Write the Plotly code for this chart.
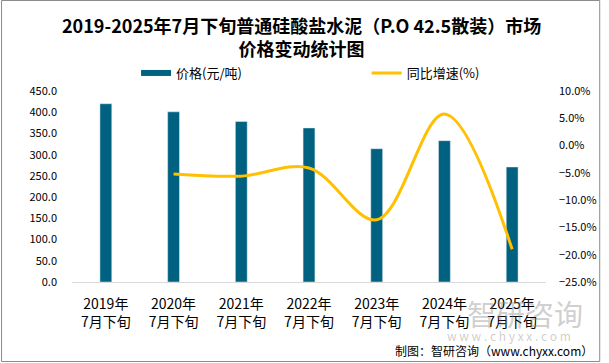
import plotly.graph_objects as go

categories = ["2019年<br>7月下旬", "2020年<br>7月下旬", "2021年<br>7月下旬", "2022年<br>7月下旬",
              "2023年<br>7月下旬", "2024年<br>7月下旬", "2025年<br>7月下旬"]
price = [420, 401, 378, 363, 314, 333, 271]
growth_cats = categories[1:]
growth = [-5.2, -5.6, -4.1, -13.6, 5.8, -19.0]

title_text = "<b>2019-2025年7月下旬普通硅酸盐水泥（P.O 42.5散装）市场<br>价格变动统计图</b>"
source_text = "制图：智研咨询（www.chyxx.com）"

W, H = 609, 363
L, R, T, B = 72, 56, 91, 81
PW, PH = W - L - R, H - T - B

BAR_COLOR = "#006280"
LINE_COLOR = "#FFC000"
FONT = "Noto Sans CJK SC"


def px_x(x):
    return (x - L) / PW


def px_y(y):
    return (H - B - y) / PH


fig = go.Figure()
fig.add_trace(go.Bar(x=categories, y=price, name="价格(元/吨)", marker_color=BAR_COLOR,
                     yaxis="y", showlegend=False))
fig.add_trace(go.Scatter(x=growth_cats, y=growth, name="同比增速(%)", mode="lines",
                         line=dict(color=LINE_COLOR, width=3, shape="spline", smoothing=1),
                         yaxis="y2", showlegend=False))
# legend entries (styled like the reference: wide bar swatch and line swatch)
fig.add_trace(go.Scatter(x=[None], y=[None], name="价格(元/吨)", mode="lines",
                         line=dict(color=BAR_COLOR, width=6), yaxis="y", legend="legend"))
fig.add_trace(go.Scatter(x=[None], y=[None], name="同比增速(%)", mode="lines",
                         line=dict(color=LINE_COLOR, width=3), yaxis="y2", legend="legend2"))

legend_common = dict(orientation="h", xanchor="left", yanchor="middle",
                     font=dict(size=13, family=FONT), bgcolor="rgba(0,0,0,0)", itemwidth=30)

fig.update_layout(
    width=W, height=H,
    margin=dict(l=L, r=R, t=T, b=B),
    paper_bgcolor="white", plot_bgcolor="white",
    font=dict(family=FONT, color="#000000", size=11),
    bargap=0.825,
    showlegend=True,
    hovermode=False,
    legend=dict(x=px_x(137), y=px_y(73), **legend_common),
    legend2=dict(x=px_x(371), y=px_y(73), **legend_common),
    xaxis=dict(type="category", showgrid=False, showline=True, linecolor="#d9d9d9", linewidth=1,
               ticks="", tickfont=dict(size=14, family=FONT, color="#000000"),
               ticklabelstandoff=9, zeroline=False),
    yaxis=dict(range=[0, 450], dtick=50, tickformat=".1f", showgrid=False, zeroline=False,
               showline=False, ticks="", ticklabelstandoff=14,
               tickfont=dict(size=11, color="#000000")),
    yaxis2=dict(range=[-25, 10], dtick=5, tickformat=".1f", ticksuffix="%", overlaying="y",
                side="right", showgrid=False, zeroline=False, showline=False, ticks="",
                ticklabelstandoff=12, tickfont=dict(size=11, color="#000000")),
)

# title
fig.add_annotation(text=title_text, xref="paper", yref="paper", x=px_x(305), y=px_y(36),
                   xanchor="center", yanchor="middle", showarrow=False,
                   font=dict(size=18, family=FONT, color="#000000"))

# outer border
fig.add_shape(type="rect", xref="paper", yref="paper",
              x0=px_x(0.5), x1=px_x(W - 1.5), y0=px_y(H - 1.5), y1=px_y(0.5),
              line=dict(color="#8c8c8c", width=1), fillcolor="rgba(0,0,0,0)", layer="below")

# watermark
fig.add_annotation(text="智研咨询", xref="paper", yref="paper", x=px_x(532), y=px_y(313),
                   xanchor="center", yanchor="middle",
                   showarrow=False, font=dict(size=29, color="rgba(130,130,130,0.4)", family=FONT))
fig.add_annotation(text="w w w . c h y x x . c o m", xref="paper", yref="paper", x=px_x(515), y=px_y(335),
                   xanchor="center", yanchor="middle",
                   showarrow=False, font=dict(size=12, color="rgba(130,130,130,0.4)", family=FONT))
# source
fig.add_annotation(text=source_text, xref="paper", yref="paper",
                   x=px_x(603), y=px_y(350), xanchor="right", yanchor="middle", showarrow=False,
                   font=dict(size=12, color="#000000", family=FONT))

fig.write_html("out.html", config={"displayModeBar": False},
               post_script="document.body.style.margin='0px';")
